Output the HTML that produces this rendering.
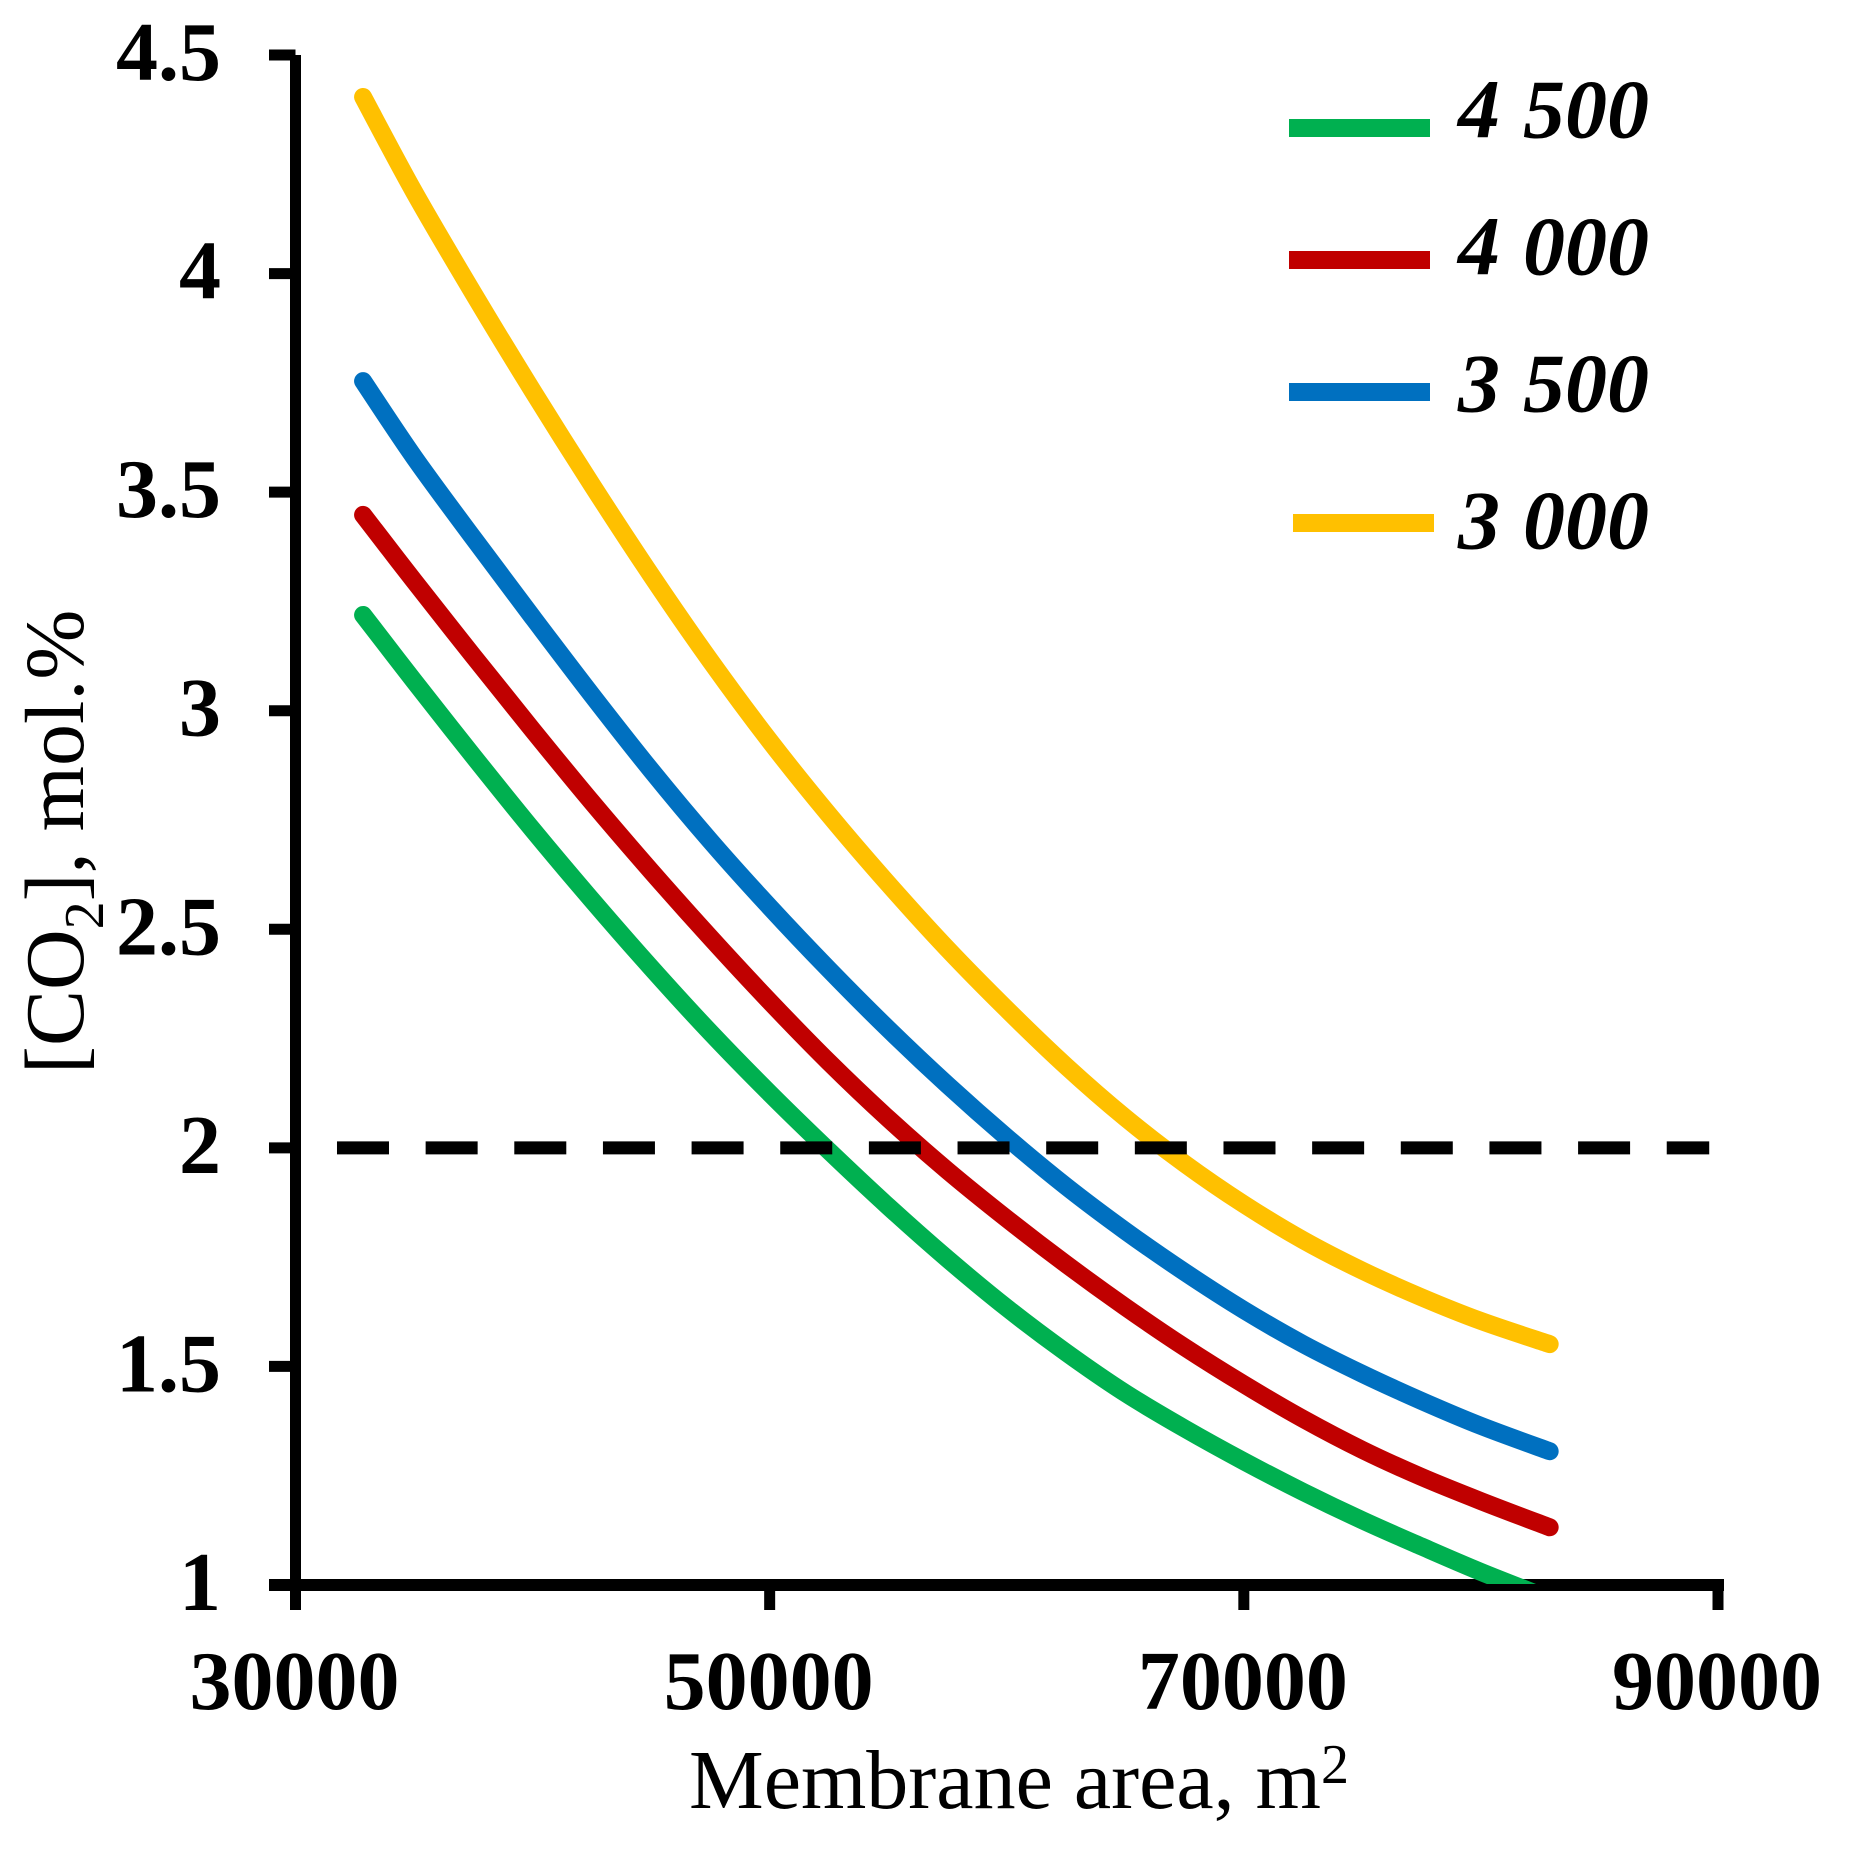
<!DOCTYPE html>
<html lang="en">
<head>
<meta charset="utf-8">
<title>CO2 concentration vs membrane area</title>
<style>
html,body{margin:0;padding:0;background:#fff;}
svg{display:block;}
text{font-family:"Liberation Serif","DejaVu Serif",serif;fill:#000;}
</style>
</head>
<body>
<svg id="chart" xmlns="http://www.w3.org/2000/svg" width="1850" height="1850" viewBox="0 0 1850 1850">
  <rect x="0" y="0" width="1850" height="1850" fill="#fff"/>
  <defs>
    <clipPath id="plot-clip"><rect id="plot-clip-rect" x="280" y="0" width="1570" height="1584"/></clipPath>
  </defs>
  <g id="axes"></g>
  <g id="series" clip-path="url(#plot-clip)"></g>
  <g id="threshold"></g>
  <g id="legend"></g>
  <text x="689" y="1808" font-size="84">Membrane area, m<tspan font-size="56" dy="-25">2</tspan></text>
  <text transform="translate(83 1074) rotate(-90)" x="0" y="0" font-size="84">[CO<tspan font-size="56" dy="20">2</tspan><tspan dy="-20">], mol.%</tspan></text>
</svg>
<script>
var xValues = [32850, 35000, 37500, 40000, 42500, 45000, 47500, 50000, 52500, 55000, 57500, 60000, 62500, 65000, 67500, 70000, 72500, 75000, 77500, 80000, 82900];
var series4500 = [3.219, 3.068, 2.896, 2.728, 2.567, 2.412, 2.264, 2.125, 1.993, 1.866, 1.746, 1.634, 1.532, 1.439, 1.358, 1.283, 1.213, 1.148, 1.088, 1.030, 0.968];
var series4000 = [3.448, 3.297, 3.125, 2.956, 2.791, 2.633, 2.481, 2.335, 2.196, 2.067, 1.948, 1.838, 1.734, 1.636, 1.544, 1.459, 1.380, 1.309, 1.247, 1.192, 1.132];
var series3500 = [3.754, 3.580, 3.395, 3.214, 3.036, 2.864, 2.702, 2.551, 2.408, 2.272, 2.144, 2.024, 1.912, 1.810, 1.716, 1.629, 1.551, 1.483, 1.421, 1.364, 1.306];
var series3000 = [4.404, 4.187, 3.955, 3.732, 3.517, 3.310, 3.114, 2.931, 2.762, 2.604, 2.455, 2.317, 2.187, 2.069, 1.964, 1.871, 1.789, 1.719, 1.658, 1.604, 1.551];
var seriesLabels = ["4 500", "4 000", "3 500", "3 000"];
var xTicks = [30000, 50000, 70000, 90000];
var yTicks = [4.5, 4, 3.5, 3, 2.5, 2, 1.5, 1];
var yTickLabels = ["4.5", "4", "3.5", "3", "2.5", "2", "1.5", "1"];
var thresholdX = [31750, 89630];
var thresholdY = [2, 2];

var NS = "http://www.w3.org/2000/svg";
var colors = ["#00B050", "#C00000", "#0070C0", "#FFC000"];
var allSeries = [series4500, series4000, series3500, series3000];

function xScale(v) { return 295.5 + (v - 30000) * (1718 - 295.5) / 60000; }
function yScale(v) { return 55 + (4.5 - v) * (1585 - 55) / 3.5; }

function make(tag, attrs, parent) {
  var node = document.createElementNS(NS, tag);
  for (var k in attrs) { node.setAttribute(k, attrs[k]); }
  parent.appendChild(node);
  return node;
}

function smoothPath(xs, ys) {
  var pts = xs.map(function (x, i) { return [xScale(x), yScale(ys[i])]; });
  var d = "M" + pts[0][0].toFixed(2) + " " + pts[0][1].toFixed(2);
  for (var i = 0; i < pts.length - 1; i++) {
    var p0 = pts[Math.max(i - 1, 0)], p1 = pts[i], p2 = pts[i + 1], p3 = pts[Math.min(i + 2, pts.length - 1)];
    var c1x = p1[0] + (p2[0] - p0[0]) / 6, c1y = p1[1] + (p2[1] - p0[1]) / 6;
    var c2x = p2[0] - (p3[0] - p1[0]) / 6, c2y = p2[1] - (p3[1] - p1[1]) / 6;
    d += " C" + c1x.toFixed(2) + " " + c1y.toFixed(2) + " " + c2x.toFixed(2) + " " + c2y.toFixed(2) + " " + p2[0].toFixed(2) + " " + p2[1].toFixed(2);
  }
  return d;
}

var axes = document.getElementById("axes");
var seriesGroup = document.getElementById("series");
var thresholdGroup = document.getElementById("threshold");
var legendGroup = document.getElementById("legend");

document.getElementById("plot-clip-rect").setAttribute("height", yScale(1) - 1);

var yAxisLine = make("line", { x1: xScale(30000), x2: xScale(30000), y1: yScale(4.5), y2: yScale(1), stroke: "#000", "stroke-width": 11 }, axes);



var xAxisLine = make("line", { x1: 269, x2: xScale(90000) + 6, y1: yScale(1), y2: yScale(1), stroke: "#000", "stroke-width": 12 }, axes);



yTicks.forEach(function (v, i) {
  var y = yScale(v);
  var tick = make("line", { x1: 269, x2: xScale(30000), y1: y, y2: y, stroke: "#000", "stroke-width": 11 }, axes);
  
  
  var label = make("text", { x: 221, y: y + 25, "text-anchor": "end", "font-size": 84, "font-weight": "bold" }, axes);
  label.textContent = yTickLabels[i];
  
  
});

xTicks.forEach(function (v) {
  var x = xScale(v);
  var tick = make("line", { x1: x, x2: x, y1: yScale(1), y2: 1610, stroke: "#000", "stroke-width": 11 }, axes);
  
  
  var label = make("text", { x: x - 1, y: 1709, "text-anchor": "middle", "font-size": 84, "font-weight": "bold" }, axes);
  label.textContent = String(v);
  
  
});

allSeries.forEach(function (values, i) {
  var line = make("path", { d: smoothPath(xValues, values), fill: "none", stroke: colors[i], "stroke-width": 18, "stroke-linecap": "round", "stroke-linejoin": "round" }, seriesGroup);
  
  
});

var thresholdLine = make("line", { x1: xScale(thresholdX[0]), x2: xScale(thresholdX[1]), y1: yScale(thresholdY[0]), y2: yScale(thresholdY[1]), stroke: "#000", "stroke-width": 13, "stroke-dasharray": "52 36.65" }, thresholdGroup);



var legendSwatchX = [1289, 1289, 1289, 1293];
var legendSwatchY = [128, 260, 392, 523];
var legendTextY = [137.5, 274.5, 411.5, 548.5];
seriesLabels.forEach(function (name, i) {
  var swatch = make("rect", { x: legendSwatchX[i], y: legendSwatchY[i] - 9, width: 141, height: 18, fill: colors[i] }, legendGroup);
  
  
  var text = make("text", { x: 1458, y: legendTextY[i], "font-size": 84, "font-weight": "bold", "font-style": "italic", "word-spacing": 2 }, legendGroup);
  text.textContent = name;
  
  
});
</script>
</body>
</html>
